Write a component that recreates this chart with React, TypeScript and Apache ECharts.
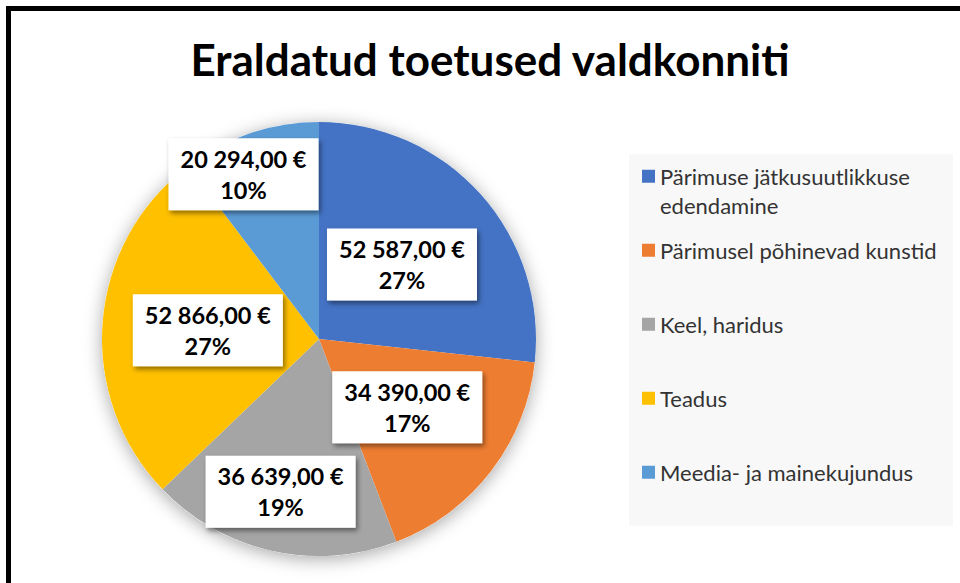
import React, { useEffect, useRef } from 'react';
import * as echarts from 'echarts';

const chartTitle = 'Eraldatud toetused valdkonniti';
const categories = [
  'Pärimuse jätkusuutlikkuse edendamine',
  'Pärimusel põhinevad kunstid',
  'Keel, haridus',
  'Teadus',
  'Meedia- ja mainekujundus',
];
const legendLabels = [
  '\nPärimuse jätkusuutlikkuse\nedendamine',
  'Pärimusel põhinevad kunstid',
  'Keel, haridus',
  'Teadus',
  'Meedia- ja mainekujundus',
];
const amounts = [52587, 34390, 36639, 52866, 20294];

const COLORS = ['#4472C4', '#ED7D31', '#A5A5A5', '#FFC000', '#5B9BD5'];
const LABEL_SHIFT: number[][] = [[0, 0], [0, 0], [-14, 44], [0, 0], [-40, -59]];
const LEG_LH = 29.5;

function fmtEuro(v: number): string {
  const [i, d] = v.toFixed(2).split('.');
  return i.replace(/\B(?=(\d{3})+(?!\d))/g, ' ') + ',' + d + ' €';
}

export default function App() {
  const ref = useRef<HTMLDivElement>(null);
  useEffect(() => {
    document.body.style.margin = '0';
    const chart = echarts.init(ref.current!, null, { renderer: 'svg' });
    const labelMap: Record<string, string> = {};
    categories.forEach((c, i) => (labelMap[c] = legendLabels[i]));
    chart.setOption({
      animation: false,
      backgroundColor: '#ffffff',
      title: {
        text: chartTitle,
        left: 490,
        top: 37,
        textAlign: 'center',
        padding: 0,
        textStyle: { fontFamily: 'Lato', fontWeight: 'bold', fontSize: 44, color: '#000' },
      },
      graphic: [
        {
          type: 'rect',
          z: -10,
          silent: true,
          shape: { x: 629, y: 154, width: 324, height: 372 },
          style: { fill: '#f8f8f8' },
        },
        {
          type: 'rect',
          z: 100,
          silent: true,
          shape: { x: 8.5, y: 8.5, width: 2000, height: 2000 },
          style: { fill: 'none', stroke: '#000', lineWidth: 5 },
        },
      ],
      legend: {
        orient: 'vertical',
        left: 642,
        top: 132,
        padding: 0,
        itemGap: -14.5,
        itemWidth: 13,
        itemHeight: 13,
        icon: 'rect',
        selectedMode: false,
        formatter: (name: string) => labelMap[name] || name,
        textStyle: {
          fontFamily: 'Lato',
          fontSize: 22,
          color: '#333',
          lineHeight: LEG_LH,
          backgroundColor: 'rgba(0,0,0,0)',
        },
        data: categories.map((name, i) => ({
          name,
          textStyle: { padding: i === 0 ? [0, 0, 0, 0] : [LEG_LH, 0, LEG_LH, 0] },
        })),
      },
      series: [
        {
          type: 'pie',
          name: 'bg',
          silent: true,
          z: 1,
          center: [319, 339],
          radius: 217,
          label: { show: false },
          labelLine: { show: false },
          itemStyle: {
            color: '#ffffff',
            shadowBlur: 18,
            shadowOffsetY: 3,
            shadowColor: 'rgba(0,0,0,0.35)',
          },
          data: [{ value: 1, name: '__bg' }],
        },
        {
          type: 'pie',
          z: 2,
          center: [319, 339],
          radius: 217,
          startAngle: 90,
          clockwise: true,
          silent: true,
          data: categories.map((name, i) => ({
            name,
            value: amounts[i],
            itemStyle: { color: COLORS[i] },
          })),
          label: {
            show: true,
            position: 'inside',
            formatter: (p: any) => `${fmtEuro(p.value)}\n${Math.round(p.percent)}%`,
            fontFamily: 'Lato',
            fontWeight: 'bold',
            fontSize: 23.5,
            lineHeight: 31,
            color: '#000',
            align: 'center',
            width: 130,
            backgroundColor: '#ffffff',
            padding: [5, 10],
            shadowBlur: 5,
            shadowOffsetX: 2,
            shadowOffsetY: 3,
            shadowColor: 'rgba(0,0,0,0.45)',
          },
          labelLine: { show: false },
          labelLayout: (params: any) => {
            const s = LABEL_SHIFT[params.dataIndex] || [0, 0];
            return { dx: s[0], dy: s[1] };
          },
        },
      ],
    });
    return () => chart.dispose();
  }, []);
  return <div ref={ref} style={{ width: 960, height: 583 }} />;
}
